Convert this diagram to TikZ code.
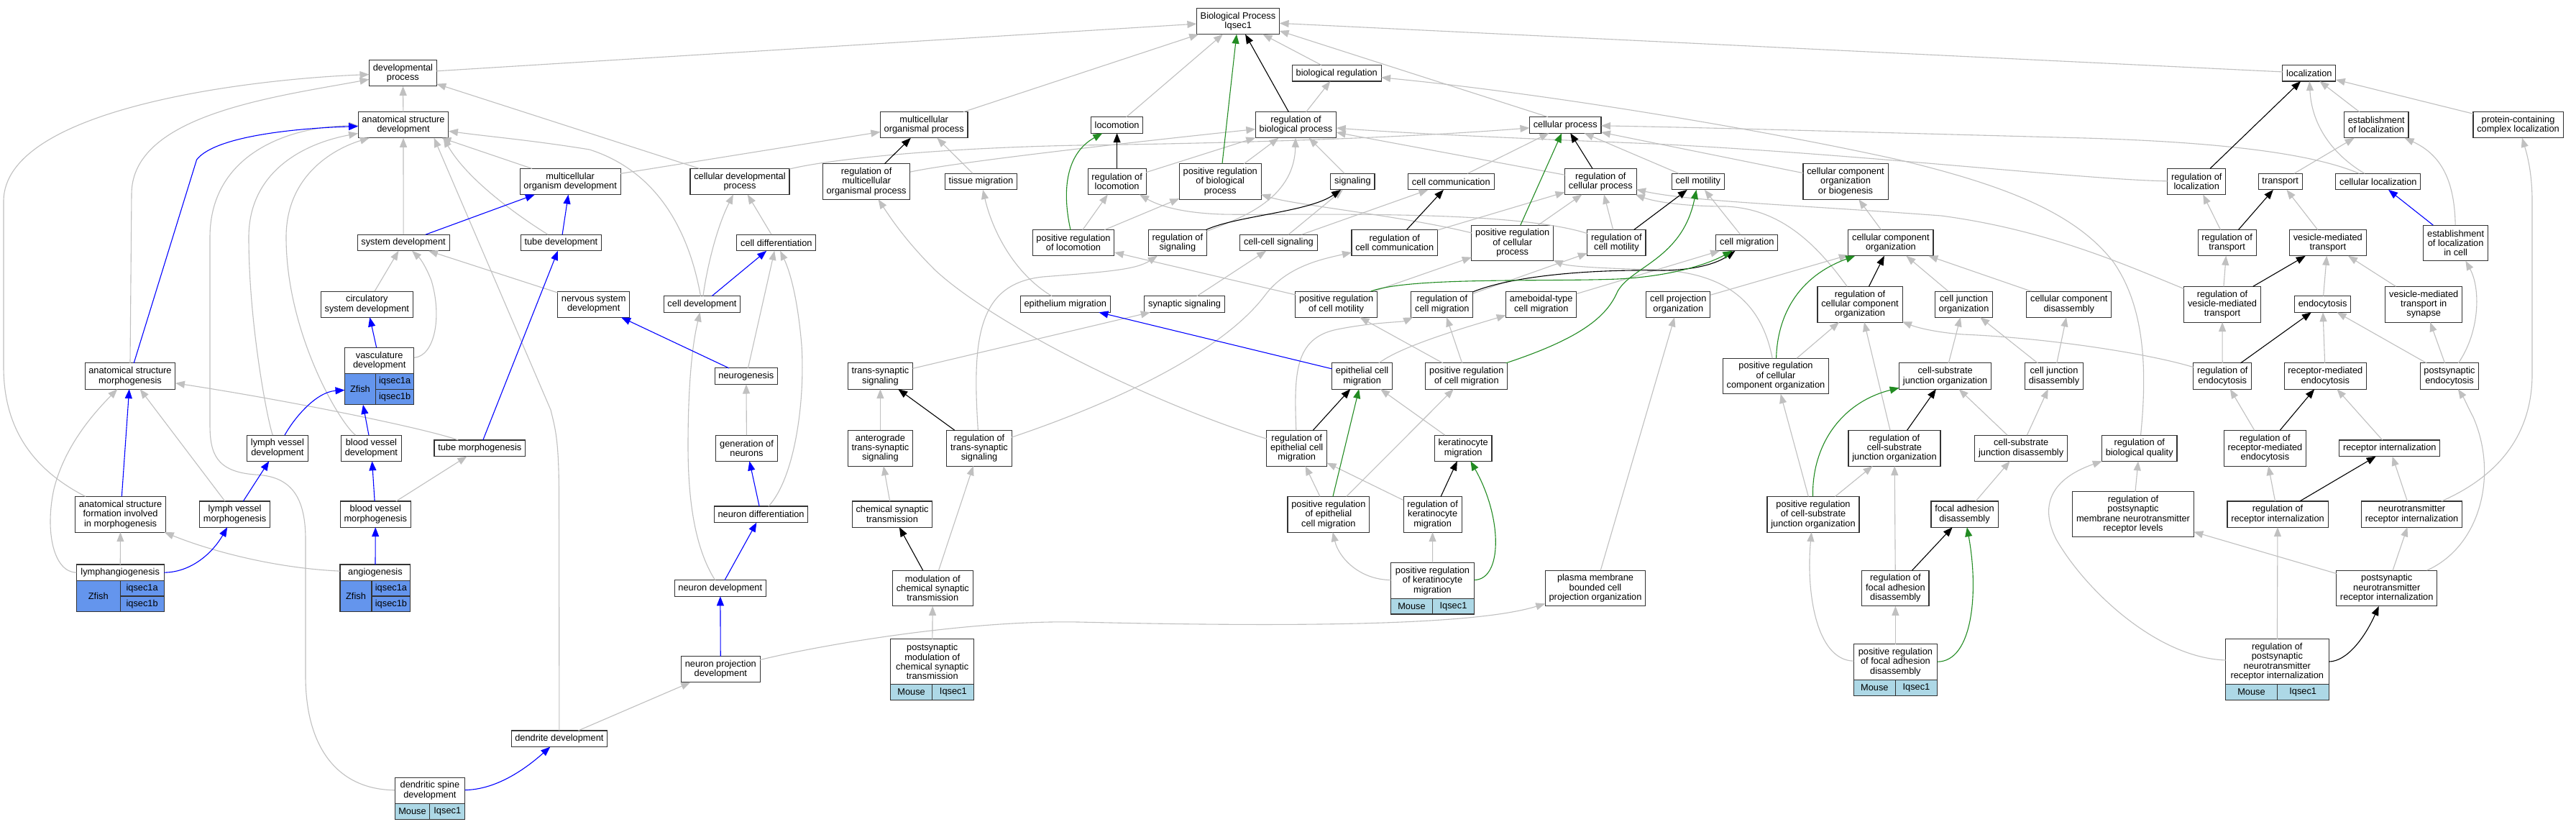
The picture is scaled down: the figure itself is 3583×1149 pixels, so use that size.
\documentclass[tikz,border=0pt]{standalone}
\usepackage{fontspec}
\setmainfont{Liberation Sans}
\usetikzlibrary{arrows.meta}

\definecolor{edgegray}{RGB}{192,192,192}
\definecolor{partblue}{RGB}{0,0,255}
\definecolor{posgreen}{RGB}{34,139,34}
\definecolor{zfishblue}{RGB}{100,149,237}
\definecolor{mouseblue}{RGB}{173,216,230}

\tikzset{
  term/.style={draw=black!80, line width=1.1pt, fill=white, align=center,
    font=\fontsize{12.8}{13.4}\selectfont, inner xsep=5.3pt, inner ysep=1pt,
    outer sep=0pt, minimum height=22.6pt},
  ln2/.style={minimum height=36.2pt},
  ln3/.style={minimum height=49.7pt},
  ln4/.style={minimum height=62.6pt},
  zcell/.style={draw=black!80, line width=1.1pt, fill=zfishblue, inner sep=0pt,
    outer sep=0pt, font=\fontsize{12.8}{13.4}\selectfont, anchor=north west},
  mcell/.style={zcell, fill=mouseblue, minimum height=21.8pt},
  conn/.style={line width=1.1pt, -{Triangle[length=13pt,width=10pt]}},
  isa/.style={conn, draw=edgegray},
  regl/.style={conn, draw=black},
  posreg/.style={conn, draw=posgreen},
  partof/.style={conn, draw=partblue},
}

\begin{document}
\begin{tikzpicture}[x=1pt, y=-1pt]
\fill[white] (0,0) rectangle (3583,1149);
\useasboundingbox (0,0) rectangle (3583,1149);

% top rows
\node[term,ln2] (bp) at (1722,29.6) {Biological Process\\Iqsec1};
\node[term,ln2] (dev) at (560.4,101.7) {developmental\\process};
\node[term] (biorg) at (1859.2,101.7) {biological regulation};
\node[term] (loc) at (3211.8,101.7) {localization};
\node[term,ln2] (asd) at (561,173.7) {anatomical structure\\development};
\node[term,ln2] (mop) at (1285.2,173.7) {multicellular\\organismal process};
\node[term] (locom) at (1553.6,173.9) {locomotion};
\node[term,ln2] (rbp) at (1802.5,173.7) {regulation of\\biological process};
\node[term] (cp) at (2177.2,173.9) {cellular process};
\node[term,ln2] (estl) at (3305.2,173.7) {establishment\\of localization};
\node[term,ln2] (pcl) at (3502.5,173.7) {protein-containing\\complex localization};
\node[term,ln2] (mod) at (793.2,252.5) {multicellular\\organism development};
\node[term,ln2] (cdp) at (1029,252.5) {cellular developmental\\process};
\node[term,ln3] (rmop) at (1205.1,252.5) {regulation of\\multicellular\\organismal process};
\node[term] (tmig) at (1364.5,252.6) {tissue migration};
\node[term,ln2] (rloc) at (1553.6,252.5) {regulation of\\locomotion};
\node[term,ln3] (prbp) at (1697.2,252.5) {positive regulation\\of biological\\process};
\node[term] (sig) at (1881.4,252.6) {signaling};
\node[term] (ccom) at (2018.3,252.6) {cell communication};
\node[term,ln2] (rcp) at (2226.3,252.5) {regulation of\\cellular process};
\node[term] (cmot) at (2361.8,252.6) {cell motility};
\node[term,ln3] (ccob) at (2567,252.5) {cellular component\\organization\\or biogenesis};
\node[term,ln2] (rlocz) at (3055.2,252.5) {regulation of\\localization};
\node[term] (trans) at (3171.7,252.6) {transport};
\node[term] (cloc) at (3307.8,252.6) {cellular localization};

\node[term] (sysd) at (561.1,337.5) {system development};
\node[term] (tubed) at (780.4,337.5) {tube development};
\node[term] (cdiff) at (1079.8,337.5) {cell differentiation};
\node[term,ln2] (prloc) at (1493,337.7) {positive regulation\\of locomotion};
\node[term,ln2] (rsig) at (1637.9,337.7) {regulation of\\signaling};
\node[term] (ccsig) at (1778.4,337.5) {cell-cell signaling};
\node[term,ln2] (rccom) at (1939.7,337.7) {regulation of\\cell communication};
\node[term,ln3] (prcp) at (2103.7,337.9) {positive regulation\\of cellular\\process};
\node[term,ln2] (rcmot) at (2248.4,337.7) {regulation of\\cell motility};
\node[term] (cmig) at (2429.8,337.5) {cell migration};
\node[term,ln2] (cco) at (2629.9,337.7) {cellular component\\organization};
\node[term,ln2] (rtrans) at (3097.6,337.7) {regulation of\\transport};
\node[term,ln2] (vmt) at (3237.8,337.7) {vesicle-mediated\\transport};
\node[term,ln3] (elc) at (3415.6,337.9) {establishment\\of localization\\in cell};

\node[term,ln2] (circ) at (510.3,423.2) {circulatory\\system development};
\node[term,ln2] (nsd) at (825.7,423.2) {nervous system\\development};
\node[term] (celld) at (976.5,423) {cell development};
\node[term] (epim) at (1481.8,423) {epithelium migration};
\node[term] (synsig) at (1647.6,423) {synaptic signaling};
\node[term,ln2] (prcmot) at (1858.6,423.2) {positive regulation\\of cell motility};
\node[term,ln2] (rcmig) at (2005.9,423.2) {regulation of\\cell migration};
\node[term,ln2] (amig) at (2143.7,423.2) {ameboidal-type\\cell migration};
\node[term,ln2] (cpo) at (2334.3,423.2) {cell projection\\organization};
\node[term,ln3] (rcco) at (2587,423.2) {regulation of\\cellular component\\organization};
\node[term,ln2] (cjo) at (2731.5,423.2) {cell junction\\organization};
\node[term,ln2] (ccd) at (2877.8,423.2) {cellular component\\disassembly};
\node[term,ln3] (rvmt) at (3091,423.2) {regulation of\\vesicle-mediated\\transport};
\node[term] (endo) at (3230.6,423) {endocytosis};
\node[term,ln3] (vmts) at (3371.2,423.2) {vesicle-mediated\\transport in\\synapse};

\node[term,ln2,minimum width=96.4pt] (vasc) at (527.7,501.4) {vasculature\\development};
\node[zcell,minimum width=42.8pt,minimum height=43.3pt] (vascz) at (vasc.south west) {Zfish};
\node[zcell,minimum width=53.6pt,minimum height=21.65pt] (vasca) at (vascz.north east) {iqsec1a};
\node[zcell,minimum width=53.6pt,minimum height=21.65pt] (vascb) at (vasca.south west) {iqsec1b};
\node[term,ln2] (asm) at (181,523) {anatomical structure\\morphogenesis};
\node[term] (neurog) at (1037.9,523.2) {neurogenesis};
\node[term,ln2] (tss) at (1224.4,523) {trans-synaptic\\signaling};
\node[term,ln2] (ecm) at (1894.6,523) {epithelial cell\\migration};
\node[term,ln2] (prcmig) at (2039.8,523) {positive regulation\\of cell migration};
\node[term,ln3] (prcco) at (2470,523) {positive regulation\\of cellular\\component organization};
\node[term,ln2] (csjo) at (2705.6,523) {cell-substrate\\junction organization};
\node[term,ln2] (cjd) at (2857,523) {cell junction\\disassembly};
\node[term,ln2] (rendo) at (3091.2,523) {regulation of\\endocytosis};
\node[term,ln2] (rme) at (3234.3,523) {receptor-mediated\\endocytosis};
\node[term,ln2] (pse) at (3407,523) {postsynaptic\\endocytosis};

\node[term,ln2] (lvd) at (385.9,623.2) {lymph vessel\\development};
\node[term,ln2] (bvd) at (516.4,623.2) {blood vessel\\development};
\node[term] (tubem) at (667.3,623.3) {tube morphogenesis};
\node[term,ln2] (genn) at (1038.5,623.2) {generation of\\neurons};
\node[term,ln3] (atss) at (1224.4,623.2) {anterograde\\trans-synaptic\\signaling};
\node[term,ln3] (rtss) at (1362,623.2) {regulation of\\trans-synaptic\\signaling};
\node[term,ln3] (recm) at (1803.7,623.2) {regulation of\\epithelial cell\\migration};
\node[term,ln2] (kmig) at (2035.2,623.2) {keratinocyte\\migration};
\node[term,ln3] (rcsjo) at (2635,623.2) {regulation of\\cell-substrate\\junction organization};
\node[term,ln2] (csjd) at (2811.1,623.2) {cell-substrate\\junction disassembly};
\node[term,ln2] (rbq) at (2975.7,623.2) {regulation of\\biological quality};
\node[term,ln3] (rrme) at (3150.4,623.2) {regulation of\\receptor-mediated\\endocytosis};
\node[term] (rint) at (3323.8,623.3) {receptor internalization};

\node[term,ln3] (asf) at (167.6,715.3) {anatomical structure\\formation involved\\in morphogenesis};
\node[term,ln2] (lvm) at (326.6,715.1) {lymph vessel\\morphogenesis};
\node[term,ln2] (bvm) at (522.3,715.1) {blood vessel\\morphogenesis};
\node[term] (ndiff) at (1058.6,715.3) {neuron differentiation};
\node[term,ln2] (cst) at (1241,715.1) {chemical synaptic\\transmission};
\node[term,ln3] (precm) at (1847.9,715.3) {positive regulation\\of epithelial\\cell migration};
\node[term,ln3] (rkmig) at (1992.6,715.3) {regulation of\\keratinocyte\\migration};
\node[term,ln3] (prcsjo) at (2522,715.3) {positive regulation\\of cell-substrate\\junction organization};
\node[term,ln2] (fad) at (2732.5,715.1) {focal adhesion\\disassembly};
\node[term,ln4] (rpml) at (2967,715.1) {regulation of\\postsynaptic\\membrane neurotransmitter\\receptor levels};
\node[term,ln2] (rri) at (3168,715.1) {regulation of\\receptor internalization};
\node[term,ln2] (nri) at (3354.5,715.1) {neurotransmitter\\receptor internalization};

\node[term,minimum width=121.7pt] (lymph) at (167.2,796.3) {lymphangiogenesis};
\node[zcell,minimum width=60.8pt,minimum height=42.8pt] (lymphz) at (lymph.south west) {Zfish};
\node[zcell,minimum width=60.9pt,minimum height=21.4pt] (lympha) at (lymphz.north east) {iqsec1a};
\node[zcell,minimum width=60.9pt,minimum height=21.4pt] (lymphb) at (lympha.south west) {iqsec1b};
\node[term,minimum width=97.9pt] (angio) at (521.95,796.3) {angiogenesis};
\node[zcell,minimum width=44pt,minimum height=42.8pt] (angioz) at (angio.south west) {Zfish};
\node[zcell,minimum width=53.9pt,minimum height=21.4pt] (angioa) at (angioz.north east) {iqsec1a};
\node[zcell,minimum width=53.9pt,minimum height=21.4pt] (angiob) at (angioa.south west) {iqsec1b};
\node[term] (nd) at (1001.8,818) {neuron development};
\node[term,ln3] (mcst) at (1297.3,818) {modulation of\\chemical synaptic\\transmission};
\node[term,ln3,minimum width=116pt] (prkmig) at (1992.5,807.3) {positive regulation\\of keratinocyte\\migration};
\node[mcell,minimum width=58pt] (prkmigm) at (prkmig.south west) {Mouse};
\node[mcell,minimum width=58pt] (prkmigg) at (prkmigm.north east) {Iqsec1};
\node[term,ln3] (pmbcpo) at (2219,818) {plasma membrane\\bounded cell\\projection organization};
\node[term,ln3] (rfad) at (2636.4,818) {regulation of\\focal adhesion\\disassembly};
\node[term,ln3] (pnri) at (3319.7,818) {postsynaptic\\neurotransmitter\\receptor internalization};

\node[term,ln2] (npd) at (1002.3,930.8) {neuron projection\\development};
\node[term,ln4,minimum width=116.4pt] (pmcst) at (1296.7,920.2) {postsynaptic\\modulation of\\chemical synaptic\\transmission};
\node[mcell,minimum width=58.2pt] (pmcstm) at (pmcst.south west) {Mouse};
\node[mcell,minimum width=58.2pt] (pmcstg) at (pmcstm.north east) {Iqsec1};
\node[term,ln3,minimum width=116.2pt] (prfad) at (2636.4,920.5) {positive regulation\\of focal adhesion\\disassembly};
\node[mcell,minimum width=58.1pt] (prfadm) at (prfad.south west) {Mouse};
\node[mcell,minimum width=58.1pt] (prfadg) at (prfadm.north east) {Iqsec1};
\node[term,ln4,minimum width=143.5pt] (rpnri) at (3167.3,920.2) {regulation of\\postsynaptic\\neurotransmitter\\receptor internalization};
\node[mcell,minimum width=71.75pt] (rpnrim) at (rpnri.south west) {Mouse};
\node[mcell,minimum width=71.75pt] (rpnrig) at (rpnrim.north east) {Iqsec1};
\node[term] (dendd) at (777.9,1027.3) {dendrite development};
\node[term,ln2,minimum width=97.5pt] (dsd) at (597.9,1099.2) {dendritic spine\\development};
\node[mcell,minimum width=48.75pt] (dsdm) at (dsd.south west) {Mouse};
\node[mcell,minimum width=48.75pt] (dsdg) at (dsdm.north east) {Iqsec1};

% is_a
\draw[isa] (dev) -- (bp);
\draw[isa] (mop) -- (bp);
\draw[isa] (locom) -- (bp);
\draw[isa] (biorg) -- (bp);
\draw[isa] (cp.155) -- (bp.-13);
\draw[isa] (loc) -- (bp);
\draw[isa] (asd) -- (dev);
\draw[isa] (cdp) -- (dev);
\draw[isa] (asf) .. controls (40,650) and (5,590) .. (5,510) -- (5,280) .. controls (5,150) and (350,110) .. (dev);
\draw[isa] (asm.north) -- (183,270) .. controls (183,160) and (380,135) .. (dev);
\draw[isa] (dsd) .. controls (470,1098) and (425,1040) .. (425,940) -- (425,750) .. controls (425,685) and (400,662) .. (355,660) .. controls (300,656) and (292,630) .. (292,590) -- (292,330) .. controls (292,215) and (400,176) .. (asd);
\draw[isa] (lvd) .. controls (372,585) and (346,450) .. (346,330) .. controls (346,240) and (420,200) .. (asd);
\draw[isa] (bvd) .. controls (470,585) and (398,460) .. (398,330) .. controls (398,240) and (470,205) .. (asd.201);
\draw[isa] (sysd) -- (asd);
\draw[isa] (dendd.north) -- (777.5,690) .. controls (777.5,610) and (772,595) .. (766,570) -- (asd.-23);
\draw[isa] (tubed) .. controls (720,300) and (650,250) .. (asd.-18);
\draw[isa] (mod) -- (asd);
\draw[isa] (celld) .. controls (960,330) and (920,240) .. (820,208) .. controls (740,195) and (680,190) .. (asd);
\draw[isa] (mod) -- (mop);
\draw[isa] (cdp) .. controls (1150,222) and (1300,206) .. (1500,202) .. controls (1800,198) and (2000,188) .. (cp);
\draw[isa] (rmop) .. controls (1330,225) and (1600,195) .. (rbp);
\draw[isa] (tmig) -- (mop);
\draw[isa] (epim) .. controls (1410,380) and (1380,320) .. (tmig);
\draw[isa] (recm) .. controls (1600,560) and (1380,450) .. (1300,375) .. controls (1260,335) and (1240,305) .. (rmop);
\draw[isa] (rloc) -- (rbp);
\draw[isa] (prloc) -- (rloc);
\draw[isa] (rcmot) .. controls (2100,290) and (1800,300) .. (1700,298) .. controls (1640,296) and (1610,285) .. (rloc);
\draw[isa] (prbp) -- (rbp);
\draw[isa] (prloc) -- (prbp);
\draw[isa] (prcp) .. controls (1950,300) and (1800,285) .. (prbp);
\draw[isa] (rsig) .. controls (1720,305) and (1800,280) .. (rbp);
\draw[isa] (sig) -- (rbp);
\draw[isa] (ccsig) -- (sig);
\draw[isa] (ccsig) -- (ccom);
\draw[isa] (synsig) -- (ccsig);
\draw[isa] (tss) -- (synsig);
\draw[isa] (atss) -- (tss);
\draw[isa] (cst) -- (atss);
\draw[isa] (mcst) -- (rtss);
\draw[isa] (pmcst) -- (mcst);
\draw[isa] (rtss) .. controls (1352,470) and (1360,395) .. (1450,385) .. controls (1540,378) and (1580,375) .. (rsig);
\draw[isa] (rtss) .. controls (1550,560) and (1700,490) .. (1760,410) .. controls (1790,370) and (1840,360) .. (rccom);
\draw[isa] (rccom) -- (rcp);
\draw[isa] (ccom) -- (cp);
\draw[isa] (rcp) -- (rbp);
\draw[isa] (prcp) -- (rcp);
\draw[isa] (rcmot) -- (rcp);
\draw[isa] (cmot) -- (cp);
\draw[isa] (prcmot) -- (prcp);
\draw[isa] (prcmot) -- (prloc);
\draw[isa] (prcmig) -- (prcmot);
\draw[isa] (prcmig) -- (rcmig);
\draw[isa] (rcmig) -- (rcmot);
\draw[isa] (recm) .. controls (1800,520) and (1800,470) .. (1860,458) .. controls (1910,448) and (1950,448) .. (rcmig);
\draw[isa] (ecm) .. controls (1950,480) and (2050,452) .. (amig);
\draw[isa] (amig) -- (cmig);
\draw[isa] (cmig) -- (cmot);
\draw[isa] (cpo) -- (cco);
\draw[isa] (pmbcpo) -- (cpo);
\draw[isa] (npd) .. controls (1150,895) and (1350,862) .. (1500,865) .. controls (1800,872) and (2050,870) .. (pmbcpo);
\draw[isa] (precm) -- (recm);
\draw[isa] (precm) -- (prcmig);
\draw[isa] (kmig) -- (ecm);
\draw[isa] (rkmig) -- (recm);
\draw[isa] (prkmig) -- (rkmig);
\draw[isa] (prkmig) .. controls (1890,806) and (1862,775) .. (precm);
\draw[isa] (ccob) -- (cp);
\draw[isa] (cco) -- (ccob);
\draw[isa] (rcco) .. controls (2520,330) and (2470,290) .. (2400,287) .. controls (2340,287) and (2300,280) .. (rcp);
\draw[isa] (cjo) -- (cco);
\draw[isa] (ccd) -- (cco);
\draw[isa] (prcco) -- (rcco);
\draw[isa] (prcco) .. controls (2450,420) and (2400,378) .. (2300,375) .. controls (2220,373) and (2180,370) .. (prcp);
\draw[isa] (csjo) -- (cjo);
\draw[isa] (cjd) -- (cjo);
\draw[isa] (cjd) -- (ccd);
\draw[isa] (rcsjo) -- (rcco);
\draw[isa] (prcsjo) -- (prcco);
\draw[isa] (prcsjo) -- (rcsjo);
\draw[isa] (csjd) -- (csjo);
\draw[isa] (csjd) -- (cjd);
\draw[isa] (fad) -- (csjd);
\draw[isa] (rfad) -- (rcsjo);
\draw[isa] (prfad) -- (rfad);
\draw[isa] (prfad) .. controls (2525,918) and (2512,820) .. (prcsjo);
\draw[isa] (rendo) .. controls (2990,492) and (2850,470) .. (2730,465) .. controls (2690,462) and (2665,455) .. (rcco);
\draw[isa] (estl) -- (loc);
\draw[isa] (pcl) -- (loc);
\draw[isa] (cloc) .. controls (3240,212) and (3215,170) .. (loc);
\draw[isa] (cloc) .. controls (3220,215) and (3100,198) .. (2900,192) .. controls (2600,184) and (2400,178) .. (cp);
\draw[isa] (trans) -- (estl);
\draw[isa] (elc) .. controls (3414,250) and (3395,215) .. (estl);
\draw[isa] (rtrans) -- (rlocz);
\draw[isa] (rlocz) .. controls (2900,250) and (2600,215) .. (2300,200) .. controls (2100,192) and (1950,185) .. (rbp);
\draw[isa] (vmt) -- (trans);
\draw[isa] (rvmt) -- (rtrans);
\draw[isa] (rvmt) .. controls (2960,370) and (2850,320) .. (2700,300) .. controls (2500,285) and (2350,280) .. (rcp);
\draw[isa] (endo) -- (vmt);
\draw[isa] (vmts) -- (vmt);
\draw[isa] (rendo) -- (rvmt);
\draw[isa] (rme) -- (endo);
\draw[isa] (pse) -- (endo);
\draw[isa] (pse) -- (vmts);
\draw[isa] (pse) .. controls (3450,460) and (3450,400) .. (elc);
\draw[isa] (rrme) -- (rendo);
\draw[isa] (rint) -- (rme);
\draw[isa] (rri) -- (rrme);
\draw[isa] (nri) -- (rint);
\draw[isa] (nri) .. controls (3480,660) and (3522,600) .. (3522,520) -- (3522,280) .. controls (3522,240) and (3515,215) .. (pcl);
\draw[isa] (pnri) -- (nri);
\draw[isa] (pnri) -- (rpml);
\draw[isa] (pnri) .. controls (3450,760) and (3475,660) .. (3440,580) .. controls (3432,565) and (3428,555) .. (pse);
\draw[isa] (rpnri) -- (rri);
\draw[isa] (rpnri) .. controls (3000,915) and (2900,820) .. (2860,750) .. controls (2830,690) and (2870,660) .. (rbq);
\draw[isa] (rpml) -- (rbq);
\draw[isa] (rbq) .. controls (2986,520) and (2985,430) .. (2940,365) .. controls (2890,300) and (2800,260) .. (2640,222) .. controls (2450,180) and (2150,130) .. (biorg);
\draw[isa] (rbp) -- (biorg);
\draw[isa] (cdiff) -- (cdp);
\draw[isa] (celld) .. controls (982,380) and (995,320) .. (cdp);
\draw[isa] (neurog) -- (cdiff);
\draw[isa] (ndiff) .. controls (1105,665) and (1120,560) .. (1115,480) .. controls (1110,420) and (1100,380) .. (cdiff);
\draw[isa] (genn) -- (neurog);
\draw[isa] (nd) .. controls (965,760) and (957,690) .. (957,620) .. controls (957,520) and (965,470) .. (celld);
\draw[isa] (dendd) -- (npd);
\draw[isa] (nsd) -- (sysd);
\draw[isa] (circ) -- (sysd);
\draw[isa] (vasc) .. controls (605,495) and (615,440) .. (600,390) .. controls (592,370) and (585,360) .. (sysd);
\draw[isa] (tubem) .. controls (600,598) and (420,560) .. (asm);
\draw[isa] (bvm) -- (tubem);
\draw[isa] (lvm) -- (asm);
\draw[isa] (lymph) .. controls (75,796) and (62,740) .. (75,680) .. controls (90,620) and (130,575) .. (asm);
\draw[isa] (lymph) -- (asf);
\draw[isa] (angio) .. controls (380,790) and (290,765) .. (asf);

% regulates
\draw[regl] (rbp) -- (bp);
\draw[regl] (rmop) -- (mop);
\draw[regl] (rloc) -- (locom);
\draw[regl] (rsig) .. controls (1720,300) and (1820,295) .. (sig);
\draw[regl] (rccom) -- (ccom);
\draw[regl] (rcp) -- (cp);
\draw[regl] (rcmot) -- (cmot);
\draw[regl] (rcmig) .. controls (2100,385) and (2200,375) .. (2300,376) .. controls (2360,377) and (2390,365) .. (cmig);
\draw[regl] (recm) -- (ecm);
\draw[regl] (rkmig) -- (kmig);
\draw[regl] (rcco) -- (cco);
\draw[regl] (rcsjo) -- (csjo);
\draw[regl] (rfad) -- (fad);
\draw[regl] (rlocz) -- (loc);
\draw[regl] (rtrans) -- (trans);
\draw[regl] (rvmt) -- (vmt);
\draw[regl] (rendo) -- (endo);
\draw[regl] (rrme) -- (rme);
\draw[regl] (rri) -- (rint);
\draw[regl] (rpnri) .. controls (3265,920) and (3290,885) .. (pnri);
\draw[regl] (rtss) -- (tss);
\draw[regl] (mcst) -- (cst);

% positively regulates
\draw[posreg] (prbp) -- (bp);
\draw[posreg] (prloc) .. controls (1478,270) and (1480,215) .. (locom);
\draw[posreg] (prcp) -- (cp);
\draw[posreg] (prcmot) .. controls (1960,385) and (2150,392) .. (2250,388) .. controls (2330,384) and (2380,365) .. (cmig);
\draw[posreg] (prcmig) .. controls (2200,470) and (2235,440) .. (2250,405) .. controls (2270,370) and (2340,360) .. (cmot);
\draw[posreg] (precm) -- (ecm);
\draw[posreg] (prkmig) .. controls (2090,806) and (2090,720) .. (kmig);
\draw[posreg] (prcco) .. controls (2472,440) and (2500,385) .. (cco);
\draw[posreg] (prcsjo) .. controls (2520,620) and (2560,560) .. (csjo);
\draw[posreg] (prfad) .. controls (2745,920) and (2752,820) .. (fad);

% part_of
\draw[partof] (asm.74) -- (273.6,222) .. controls (300,188) and (420,178) .. (asd);
\draw[partof] (sysd) -- (mod);
\draw[partof] (tubed) -- (mod);
\draw[partof] (tubem) -- (tubed);
\draw[partof] (vasc) -- (circ);
\draw[partof] (lvd) .. controls (410,580) and (440,545) .. (vascz);
\draw[partof] (bvd) -- (vascz);
\draw[partof] (bvm) -- (bvd);
\draw[partof] (lvm) -- (lvd);
\draw[partof] (lymph) .. controls (265,796) and (295,770) .. (lvm);
\draw[partof] (angio) -- (bvm);
\draw[partof] (asf) -- (asm);
\draw[partof] (celld) -- (cdiff);
\draw[partof] (neurog) -- (nsd);
\draw[partof] (ndiff) -- (genn);
\draw[partof] (nd) -- (ndiff);
\draw[partof] (npd) -- (nd);
\draw[partof] (dsd) .. controls (690,1098) and (730,1070) .. (dendd);
\draw[partof] (ecm) -- (epim);
\draw[partof] (elc) -- (cloc);
\end{tikzpicture}
\end{document}
